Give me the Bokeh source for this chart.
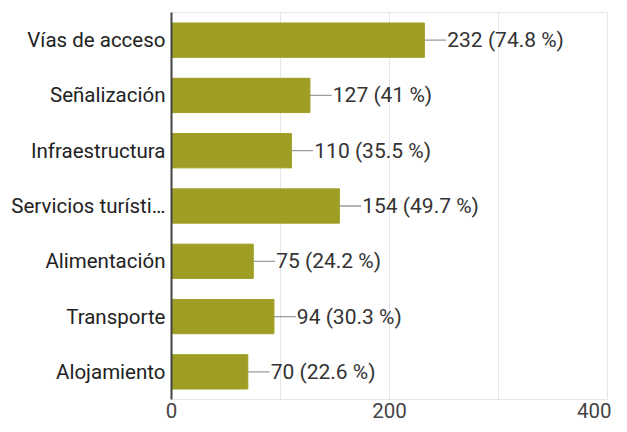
from bokeh.plotting import figure
from bokeh.models import ColumnDataSource, FixedTicker, FactorRange, Range1d
from bokeh.embed import file_html
from bokeh.resources import INLINE
from bokeh.core.properties import value

categories = ["Vías de acceso", "Señalización", "Infraestructura", "Servicios turísti…",
              "Alimentación", "Transporte", "Alojamiento"]
counts = [232, 127, 110, 154, 75, 94, 70]
percents = ["74.8", "41", "35.5", "49.7", "24.2", "30.3", "22.6"]
x_ticks = [0, 200, 400]
x_minor = [100, 300]

labels = [f"{c} ({p} %)" for c, p in zip(counts, percents)]
lead = 20  # leader length in data units
src = ColumnDataSource(dict(cat=categories, n=counts, lab=labels,
                            lead_end=[c + lead for c in counts],
                            lab_x=[c + lead + 1 for c in counts]))

p = figure(width=611, height=424, output_backend="svg", toolbar_location=None,
           y_range=FactorRange(*reversed(categories)), x_range=Range1d(0, 400),
           min_border_left=171, min_border_right=4, min_border_top=12, min_border_bottom=25)

p.hbar(y="cat", right="n", left=0, height=0.62, source=src, color="#9e9d24")
p.segment(x0="n", y0="cat", x1="lead_end", y1="cat", source=src, line_color="#9a9a9a", line_width=1.3)
p.text(x="lab_x", y="cat", text="lab", source=src, text_font=value("Roboto"),
       text_font_size="21px", text_color="#333333", text_baseline="middle", text_align="left")

p.outline_line_color = "#e6e6e6"
p.ygrid.grid_line_color = None
p.xgrid.ticker = FixedTicker(ticks=x_ticks, minor_ticks=x_minor)
p.xgrid.grid_line_color = "#e6e6e6"
p.xgrid.minor_grid_line_color = "#e6e6e6"

xa = p.xaxis[0]
xa.ticker = FixedTicker(ticks=x_ticks, minor_ticks=x_minor)
xa.axis_line_color = None
xa.major_tick_line_color = None
xa.minor_tick_line_color = None
xa.major_tick_out = 0
xa.minor_tick_out = 0
xa.major_label_standoff = 3
xa.major_label_text_font = "Roboto"
xa.major_label_text_font_size = "20.5px"
xa.major_label_text_color = "#444444"

ya = p.yaxis[0]
ya.axis_line_color = "#444444"
ya.axis_line_width = 2
ya.major_tick_line_color = None
ya.major_tick_out = 0
ya.major_label_standoff = 6
ya.major_label_text_font = "Roboto"
ya.major_label_text_font_size = "20.5px"
ya.major_label_text_color = "#222222"

open("out.html", "w").write(file_html(p, INLINE))
